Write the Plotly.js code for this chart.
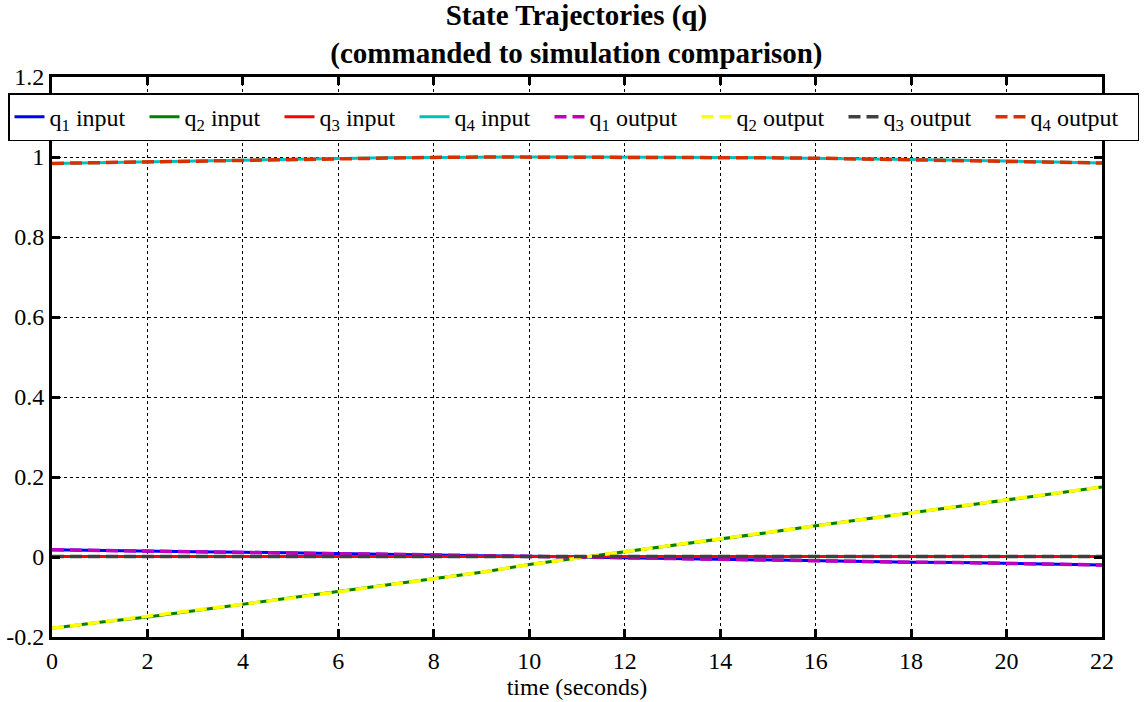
<!DOCTYPE html>
<html>
<head>
<meta charset="utf-8">
<script src="https://cdn.plot.ly/plotly-3.0.1.min.js"></script>
<style>html,body{margin:0;padding:0;background:#fff;}#chart{width:1146px;height:702px;}</style>
</head>
<body>
<div id="chart"></div>
<script>
const time = [0,1,2,3,4,5,6,7,8,9,10,11,12,13,14,15,16,17,18,19,20,21,22];
const q1 = [0.018,0.016,0.015,0.013,0.012,0.010,0.008,0.007,0.005,0.003,0.002,0.000,-0.002,-0.003,-0.005,-0.007,-0.009,-0.011,-0.013,-0.014,-0.016,-0.018,-0.020];
const q2 = [-0.178,-0.163,-0.150,-0.134,-0.118,-0.103,-0.087,-0.071,-0.055,-0.038,-0.019,-0.003,0.012,0.029,0.045,0.061,0.078,0.094,0.110,0.127,0.143,0.159,0.175];
const q3 = [0.001,0.001,0.001,0.001,0.001,0.001,0.001,0.001,0.001,0.001,0.001,0.001,0.001,0.001,0.001,0.001,0.001,0.001,0.001,0.001,0.001,0.001,0.001];
const q4 = [0.984,0.986,0.988,0.990,0.993,0.995,0.997,0.998,0.999,1.0,1.0,1.0,1.0,1.0,0.999,0.998,0.997,0.995,0.994,0.992,0.990,0.988,0.985];
const seriesNames = ["q<sub>1</sub> input","q<sub>2</sub> input","q<sub>3</sub> input","q<sub>4</sub> input","q<sub>1</sub> output","q<sub>2</sub> output","q<sub>3</sub> output","q<sub>4</sub> output"];
const seriesData = [q1,q2,q3,q4,q1,q2,q3,q4];
const colors = ["#0000ff","#008000","#ff0000","#00bfbf","#bf00bf","#ffff00","#404040","#d83000"];
const xTicks = [0,2,4,6,8,10,12,14,16,18,20,22];
const yTicks = [-0.2,0,0.2,0.4,0.6,0.8,1,1.2];
const yTickText = ["-0.2","0","0.2","0.4","0.6","0.8","1","1.2"];

const traces = seriesData.map((d,i)=>({
  x: time, y: d, type:'scatter', mode:'lines', name: seriesNames[i],
  legendwidth: i<4 ? 90 : 102,
  line: {color: colors[i], width: i<4 ? 3 : 3.5, dash: i<4 ? 'solid' : '12px,6px'}
}));

const fam = 'Liberation Serif, Times New Roman, serif';
const font = {family: fam, size: 24, color:'#000'};
const layout = {
  width:1146, height:702,
  margin:{l:8, r:6, t:77, b:65},
  paper_bgcolor:'#fff', plot_bgcolor:'#fff',
  font: font,
  title:{text:'<b>State Trajectories (q)</b><br><b>(commanded to simulation comparison)</b>', xref:'container', x:0.503, xanchor:'center', yref:'container', y:0.964, yanchor:'middle', font:{family:fam, size:29, color:'#000'}},
  xaxis:{domain:[0.03887,0.96643], range:[0,22], tickvals:xTicks, ticks:'inside', ticklen:8, tickwidth:3, tickcolor:'#000',
    showline:true, linewidth:3, linecolor:'#000', mirror:'ticks', showgrid:true, gridcolor:'#000', gridwidth:1, griddash:'dot',
    zeroline:false, title:{text:'time (seconds)', font:font, standoff:2}, tickfont:font},
  yaxis:{range:[-0.2,1.2], tickvals:yTicks, ticktext:yTickText, ticks:'inside', ticklen:8, tickwidth:3, tickcolor:'#000',
    showline:true, linewidth:3, linecolor:'#000', mirror:'ticks', showgrid:true, gridcolor:'#000', gridwidth:1, griddash:'dot',
    zeroline:false, tickfont:font},
  showlegend:true,
  legend:{orientation:'h', x:0, xanchor:'left', y:0.971, yanchor:'top', bgcolor:'#fff', bordercolor:'#000', borderwidth:1.5,
    font:font, itemwidth:30, tracegroupgap:0}
};
Plotly.newPlot('chart', traces, layout, {displayModeBar:false});
</script>
</body>
</html>
